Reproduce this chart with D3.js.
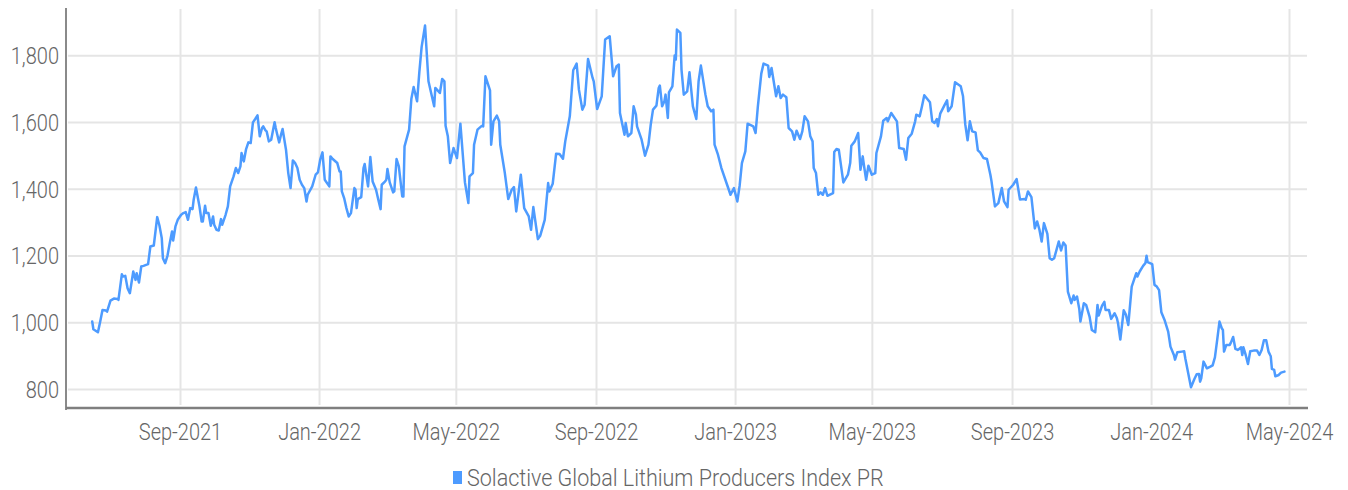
<!DOCTYPE html>
<html><head><meta charset="utf-8">
<script src="https://cdn.jsdelivr.net/npm/d3@7"></script>
<style>
body{margin:0;background:#fff}
svg{display:block}
text{font-family:Roboto,"Liberation Sans",sans-serif;font-weight:300;fill:#666}
</style>
</head><body>
<svg id="chart" width="1348" height="490"></svg>
<script>
const seriesName = "Solactive Global Lithium Producers Index PR";
const yTicks = [800, 1000, 1200, 1400, 1600, 1800];
const xTicks = ["2021-09-01","2022-01-01","2022-05-01","2022-09-01","2023-01-01","2023-05-01","2023-09-01","2024-01-01","2024-05-01"];

const dates = [
"2021-06-16","2021-06-17","2021-06-21","2021-06-23","2021-06-25","2021-06-28","2021-06-29",
"2021-07-02","2021-07-05","2021-07-08","2021-07-09","2021-07-12","2021-07-13","2021-07-15","2021-07-17","2021-07-19","2021-07-22","2021-07-24","2021-07-25","2021-07-27","2021-07-29","2021-07-31",
"2021-08-04","2021-08-06","2021-08-09","2021-08-12","2021-08-14","2021-08-16","2021-08-17","2021-08-19","2021-08-21","2021-08-23","2021-08-25","2021-08-26","2021-08-28","2021-08-30",
"2021-09-02","2021-09-04","2021-09-06","2021-09-08","2021-09-10","2021-09-12","2021-09-13","2021-09-15","2021-09-17","2021-09-18","2021-09-20","2021-09-21","2021-09-23","2021-09-24","2021-09-26","2021-09-28","2021-09-30",
"2021-10-01","2021-10-03","2021-10-05","2021-10-07","2021-10-08","2021-10-11","2021-10-13","2021-10-15","2021-10-18","2021-10-20","2021-10-22","2021-10-24","2021-10-25","2021-10-27","2021-10-29","2021-10-31",
"2021-11-02","2021-11-04","2021-11-06","2021-11-08","2021-11-10","2021-11-12","2021-11-13","2021-11-15","2021-11-16","2021-11-18","2021-11-20","2021-11-22","2021-11-23","2021-11-24","2021-11-25","2021-11-27","2021-11-29","2021-11-30",
"2021-12-03","2021-12-05","2021-12-07","2021-12-09","2021-12-11","2021-12-13","2021-12-15","2021-12-17","2021-12-19","2021-12-21","2021-12-22","2021-12-26","2021-12-29","2021-12-31",
"2022-01-02","2022-01-04","2022-01-06","2022-01-10","2022-01-11","2022-01-13","2022-01-17","2022-01-19","2022-01-20","2022-01-21","2022-01-23","2022-01-25","2022-01-27","2022-01-29",
"2022-02-01","2022-02-02","2022-02-03","2022-02-04","2022-02-07","2022-02-09","2022-02-10","2022-02-13","2022-02-15","2022-02-17","2022-02-20","2022-02-22","2022-02-24","2022-02-25","2022-02-28",
"2022-03-01","2022-03-02","2022-03-04","2022-03-07","2022-03-08","2022-03-10","2022-03-12","2022-03-15","2022-03-16","2022-03-17","2022-03-21","2022-03-23","2022-03-25","2022-03-28","2022-03-30",
"2022-04-01","2022-04-04","2022-04-07","2022-04-10","2022-04-12","2022-04-13","2022-04-17","2022-04-19","2022-04-21","2022-04-22","2022-04-24","2022-04-26","2022-04-29",
"2022-05-02","2022-05-05","2022-05-09","2022-05-12","2022-05-13","2022-05-16","2022-05-17","2022-05-20","2022-05-24","2022-05-25","2022-05-27","2022-05-31",
"2022-06-01","2022-06-03","2022-06-06","2022-06-08","2022-06-09","2022-06-13","2022-06-16","2022-06-19","2022-06-21","2022-06-23","2022-06-27","2022-06-30",
"2022-07-04","2022-07-06","2022-07-08","2022-07-12","2022-07-14","2022-07-18","2022-07-21","2022-07-22","2022-07-25","2022-07-28","2022-07-31",
"2022-08-03","2022-08-05","2022-08-09","2022-08-12","2022-08-15","2022-08-17","2022-08-20","2022-08-22","2022-08-25","2022-08-29","2022-08-30",
"2022-09-02","2022-09-06","2022-09-09","2022-09-13","2022-09-16","2022-09-19","2022-09-21","2022-09-22","2022-09-26","2022-09-27","2022-09-29",
"2022-10-02","2022-10-04","2022-10-06","2022-10-07","2022-10-11","2022-10-14","2022-10-17","2022-10-19","2022-10-21","2022-10-24","2022-10-26","2022-10-27","2022-10-29","2022-10-31",
"2022-11-01","2022-11-03","2022-11-04","2022-11-07","2022-11-09","2022-11-10","2022-11-11","2022-11-14","2022-11-15","2022-11-17","2022-11-20","2022-11-22","2022-11-25","2022-11-28","2022-11-30",
"2022-12-02","2022-12-06","2022-12-08","2022-12-11","2022-12-13","2022-12-14","2022-12-17","2022-12-20","2022-12-25","2022-12-28","2022-12-31",
"2023-01-03","2023-01-05","2023-01-07","2023-01-10","2023-01-12","2023-01-17","2023-01-19","2023-01-21","2023-01-24","2023-01-26","2023-01-30","2023-01-31",
"2023-02-02","2023-02-06","2023-02-08","2023-02-10","2023-02-12","2023-02-15","2023-02-17","2023-02-20","2023-02-22","2023-02-24","2023-02-27",
"2023-03-01","2023-03-03","2023-03-06","2023-03-08","2023-03-10","2023-03-11","2023-03-13","2023-03-15","2023-03-17","2023-03-19","2023-03-21","2023-03-23","2023-03-28","2023-03-29","2023-03-31",
"2023-04-02","2023-04-06","2023-04-10","2023-04-12","2023-04-13","2023-04-16","2023-04-19","2023-04-21","2023-04-23","2023-04-24","2023-04-26","2023-04-28",
"2023-05-01","2023-05-04","2023-05-05","2023-05-09","2023-05-11","2023-05-14","2023-05-15","2023-05-18","2023-05-23","2023-05-25","2023-05-29","2023-05-31",
"2023-06-02","2023-06-05","2023-06-08","2023-06-09","2023-06-12","2023-06-14","2023-06-16","2023-06-21","2023-06-23","2023-06-25","2023-06-27","2023-06-28","2023-06-30",
"2023-07-04","2023-07-06","2023-07-07","2023-07-10","2023-07-13","2023-07-18","2023-07-20","2023-07-22","2023-07-24","2023-07-26","2023-07-28","2023-07-31",
"2023-08-02","2023-08-04","2023-08-07","2023-08-10","2023-08-13","2023-08-14","2023-08-17","2023-08-20","2023-08-23","2023-08-25","2023-08-28","2023-08-29",
"2023-09-02","2023-09-05","2023-09-08","2023-09-12","2023-09-13","2023-09-15","2023-09-18","2023-09-21","2023-09-23","2023-09-25","2023-09-27","2023-09-29",
"2023-10-02","2023-10-04","2023-10-06","2023-10-08","2023-10-10","2023-10-12","2023-10-14","2023-10-16","2023-10-18","2023-10-20","2023-10-23","2023-10-25","2023-10-26","2023-10-28","2023-10-30","2023-10-31",
"2023-11-03","2023-11-05","2023-11-08","2023-11-10","2023-11-13","2023-11-15","2023-11-16","2023-11-19","2023-11-21","2023-11-22","2023-11-25","2023-11-27","2023-11-30",
"2023-12-02","2023-12-03","2023-12-05","2023-12-08","2023-12-10","2023-12-12","2023-12-15","2023-12-17","2023-12-19","2023-12-20","2023-12-22","2023-12-25","2023-12-27","2023-12-28","2023-12-29",
"2024-01-02","2024-01-04","2024-01-06","2024-01-08","2024-01-10","2024-01-13","2024-01-16","2024-01-18","2024-01-21","2024-01-22","2024-01-24","2024-01-28","2024-01-30","2024-01-31",
"2024-02-05","2024-02-08","2024-02-10","2024-02-12","2024-02-13","2024-02-14","2024-02-16","2024-02-19","2024-02-22","2024-02-24","2024-02-26","2024-02-28",
"2024-03-01","2024-03-03","2024-03-04","2024-03-05","2024-03-07","2024-03-10","2024-03-11","2024-03-13","2024-03-15","2024-03-17","2024-03-18","2024-03-20","2024-03-21","2024-03-22","2024-03-24","2024-03-26","2024-03-28","2024-03-31",
"2024-04-03","2024-04-05","2024-04-07","2024-04-09","2024-04-11","2024-04-13","2024-04-15","2024-04-16","2024-04-18","2024-04-19","2024-04-22","2024-04-24","2024-04-27"
];

const values = [
1002,979,970,1002,1037,1035,1032,
1065,1071,1070,1067,1144,1137,1139,1102,1087,1152,1127,1147,1119,1167,1169,
1174,1227,1230,1315,1289,1252,1192,1177,1199,1237,1272,1245,1287,1307,
1322,1327,1330,1307,1342,1339,1367,1404,1367,1349,1302,1302,1349,1327,1327,1289,1317,
1292,1277,1275,1309,1292,1322,1347,1407,1437,1462,1447,1467,1507,1482,1519,1539,
1537,1599,1609,1620,1557,1582,1587,1575,1572,1542,1547,1582,1599,1582,1567,1539,1567,1579,
1517,1447,1402,1485,1477,1462,1427,1412,1402,1362,1382,1407,1442,1449,
1487,1509,1427,1407,1497,1489,1477,1452,1452,1392,1372,1342,1317,1327,
1402,1397,1342,1369,1375,1462,1474,1407,1495,1422,1397,1367,1339,1412,1422,
1427,1459,1419,1389,1392,1489,1467,1377,1377,1527,1577,1670,1705,1662,1750,
1825,1889,1722,1677,1647,1702,1687,1729,1722,1589,1557,1477,1522,
1492,1595,1419,1357,1437,1447,1532,1577,1589,1587,1737,1695,
1532,1602,1619,1602,1532,1447,1369,1397,1405,1332,1442,1342,
1317,1277,1345,1249,1259,1307,1417,1392,1415,1505,1504,
1490,1542,1617,1755,1775,1697,1637,1652,1789,1732,1722,
1639,1677,1847,1857,1737,1767,1772,1627,1562,1597,1557,
1567,1647,1622,1587,1547,1499,1532,1592,1637,1649,1702,1709,1647,1662,
1682,1612,1689,1707,1799,1787,1877,1867,1757,1682,1692,1749,1647,1609,1722,
1769,1682,1647,1632,1637,1532,1502,1462,1412,1382,1402,
1362,1409,1477,1512,1595,1587,1567,1647,1745,1775,1769,1735,
1762,1677,1707,1672,1682,1674,1582,1572,1547,1574,1549,
1572,1617,1602,1557,1542,1462,1447,1382,1389,1382,1402,1379,1387,1510,1519,
1517,1419,1442,1477,1529,1542,1567,1457,1497,1472,1427,1469,
1442,1447,1507,1557,1604,1612,1602,1627,1602,1522,1519,1487,
1552,1565,1602,1622,1617,1647,1680,1659,1602,1597,1609,1587,1625,
1652,1665,1632,1647,1719,1707,1677,1592,1545,1602,1572,1569,
1515,1509,1492,1489,1442,1422,1347,1357,1402,1362,1345,1397,
1412,1429,1368,1369,1367,1392,1375,1281,1302,1278,1242,1297,
1265,1192,1187,1192,1217,1242,1215,1239,1230,1092,1057,1080,1067,1077,1040,1002,
1057,1052,1017,977,970,1052,1020,1050,1061,1037,1037,1010,1027,
1012,997,948,1036,1022,992,1107,1127,1147,1137,1152,1169,1177,1199,1180,
1174,1112,1107,1096,1030,1005,972,927,902,888,910,912,913,892,
805,830,844,845,822,832,882,862,867,871,895,947,
1002,982,977,912,932,932,939,956,920,917,919,925,902,925,902,875,913,915,
915,902,917,946,946,912,898,860,857,838,842,849,852
];

const parse = d3.utcParse("%Y-%m-%d");
const data = dates.map((d, i) => ({ date: parse(d), value: values[i] }));

const plot = { left: 66, right: 1307, top: 9, bottom: 408 };
const x = d3.scaleUtc().domain([parse("2021-09-01"), parse("2024-05-01")]).range([180, 1289]);
const y = d3.scaleLinear().domain([800, 1800]).range([389, 55.25]);

const svg = d3.select("#chart");
const lineColor = "#4d9bff";
const squeeze = "scale(0.87,1)";

// horizontal grid
svg.append("g")
  .attr("transform", `translate(${plot.right},0)`)
  .call(d3.axisLeft(y).tickValues(yTicks).tickSize(plot.right - 68).tickFormat(""))
  .call(g => g.select(".domain").remove())
  .call(g => g.selectAll("line").attr("stroke", "#e5e5e5").attr("stroke-width", 2));

// vertical grid
svg.append("g")
  .attr("transform", `translate(0,405)`)
  .call(d3.axisBottom(x).tickValues(xTicks.map(parse)).tickSize(-(405 - plot.top)).tickFormat(""))
  .call(g => g.select(".domain").remove())
  .call(g => g.selectAll("line").attr("stroke", "#e5e5e5").attr("stroke-width", 2));

// y labels
svg.append("g")
  .attr("transform", `translate(59,0)`)
  .call(d3.axisLeft(y).tickValues(yTicks).tickSize(0).tickPadding(0).tickFormat(d3.format(",")))
  .call(g => g.select(".domain").remove())
  .call(g => g.selectAll("text").attr("fill", "#666").style("font-size", "23px")
    .attr("dy", "0.36em").attr("transform", squeeze));

// x labels
svg.append("g")
  .attr("transform", `translate(0,${plot.bottom})`)
  .call(d3.axisBottom(x).tickValues(xTicks.map(parse)).tickSize(0).tickPadding(16).tickFormat(d3.utcFormat("%b-%Y")))
  .call(g => g.select(".domain").remove())
  .call(g => g.selectAll("text").attr("fill", "#666").style("font-size", "23px")
    .attr("dy", "0.71em").attr("transform", squeeze));

// axis lines
svg.append("line").attr("x1", plot.left).attr("x2", plot.left).attr("y1", 8).attr("y2", 410)
  .attr("stroke", "#8a8a8a").attr("stroke-width", 2);
svg.append("line").attr("x1", plot.left).attr("x2", plot.right + 1).attr("y1", plot.bottom).attr("y2", plot.bottom)
  .attr("stroke", "#7f7f7f").attr("stroke-width", 2.5);

// series line
const line = d3.line().x(d => x(d.date)).y(d => y(d.value));
svg.append("path").datum(data)
  .attr("fill", "none").attr("stroke", lineColor).attr("stroke-width", 2.5)
  .attr("stroke-linejoin", "round").attr("stroke-linecap", "round")
  .attr("d", line);

// legend
const legend = svg.append("g").attr("transform", "translate(453,471)");
legend.append("rect").attr("width", 9).attr("height", 13).attr("fill", lineColor);
legend.append("g").attr("transform", "translate(14,14.5)")
  .append("text").attr("transform", "scale(0.936,1)").style("font-size", "23px").attr("fill", "#666").text(seriesName);
</script>
</body></html>
